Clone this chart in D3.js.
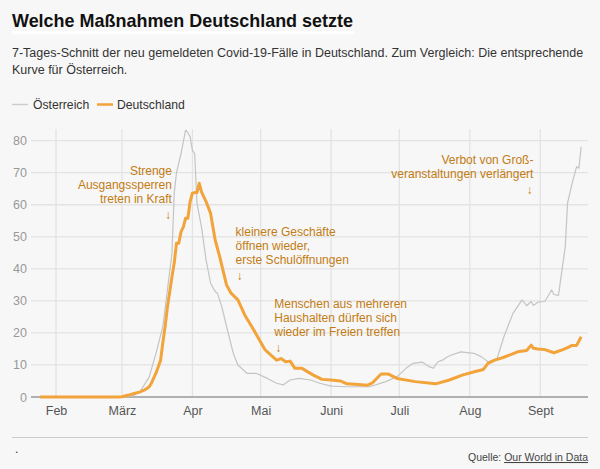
<!DOCTYPE html>
<html><head><meta charset="utf-8">
<script src="https://cdn.jsdelivr.net/npm/d3@7"></script>
<style>
html,body{margin:0;padding:0;background:#f7f7f7;}
svg{display:block;font-family:"Liberation Sans",Arial,Helvetica,sans-serif;}
</style></head>
<body>
<svg id="c" width="600" height="469"></svg>
<script>
const title = "Welche Maßnahmen Deutschland setzte";
const subtitle = ["7-Tages-Schnitt der neu gemeldeten Covid-19-Fälle in Deutschland. Zum Vergleich: Die entsprechende", "Kurve für Österreich."];
const seriesNames = ["Österreich", "Deutschland"];
const yTicks = [0,10,20,30,40,50,60,70,80];
const xTickDates = ["2020-02-01","2020-03-01","2020-04-01","2020-05-01","2020-06-01","2020-07-01","2020-08-01","2020-09-01"];
const xTickLabels = ["Feb","März","Apr","Mai","Juni","Juli","Aug","Sept"];

const deDates = ["2020-01-25","2020-02-15","2020-02-28","2020-03-01","2020-03-04","2020-03-06","2020-03-09","2020-03-11","2020-03-13","2020-03-14","2020-03-16","2020-03-18","2020-03-19","2020-03-20","2020-03-21","2020-03-23","2020-03-24","2020-03-25","2020-03-26","2020-03-27","2020-03-28","2020-03-29","2020-03-30","2020-03-31","2020-04-01","2020-04-02","2020-04-03","2020-04-04","2020-04-05","2020-04-07","2020-04-09","2020-04-11","2020-04-13","2020-04-16","2020-04-18","2020-04-21","2020-04-24","2020-04-28","2020-05-03","2020-05-08","2020-05-10","2020-05-12","2020-05-14","2020-05-16","2020-05-19","2020-05-24","2020-05-28","2020-06-01","2020-06-05","2020-06-08","2020-06-13","2020-06-17","2020-06-19","2020-06-23","2020-06-26","2020-06-30","2020-07-08","2020-07-17","2020-07-23","2020-07-29","2020-08-03","2020-08-07","2020-08-09","2020-08-12","2020-08-16","2020-08-19","2020-08-22","2020-08-26","2020-08-28","2020-08-29","2020-08-31","2020-09-03","2020-09-07","2020-09-11","2020-09-13","2020-09-15","2020-09-17","2020-09-19"];
const deValues = [0,0,0,0.1,0.6,1.0,1.6,2.2,3.2,4.4,7.5,11.5,17,22,28,37.5,41.8,48,48,51.6,53,55.8,55.8,61,63.6,63.8,63.8,66.7,64,61,57.3,49,43.8,35,32.4,30.3,25.6,20.9,14.7,11.5,12,11,11.2,9,9,6.9,5.5,5.3,5.0,4.1,3.9,3.7,4.3,7.2,7.2,5.8,4.8,4.1,5.3,6.9,7.9,8.6,10.5,11.5,12.4,13.2,14.1,14.5,16.2,15.2,15,14.8,13.8,14.8,15.4,16.1,16.1,18.8];

const atDates = ["2020-01-25","2020-02-20","2020-03-03","2020-03-06","2020-03-09","2020-03-13","2020-03-16","2020-03-19","2020-03-21","2020-03-23","2020-03-24","2020-03-25","2020-03-27","2020-03-29","2020-03-30","2020-03-31","2020-04-01","2020-04-02","2020-04-03","2020-04-05","2020-04-07","2020-04-09","2020-04-11","2020-04-12","2020-04-14","2020-04-16","2020-04-19","2020-04-21","2020-04-25","2020-04-29","2020-05-04","2020-05-08","2020-05-11","2020-05-14","2020-05-18","2020-05-23","2020-05-27","2020-06-01","2020-06-08","2020-06-14","2020-06-18","2020-06-25","2020-06-30","2020-07-04","2020-07-07","2020-07-11","2020-07-14","2020-07-16","2020-07-18","2020-07-20","2020-07-22","2020-07-24","2020-07-28","2020-08-03","2020-08-06","2020-08-09","2020-08-13","2020-08-16","2020-08-20","2020-08-24","2020-08-26","2020-08-28","2020-08-29","2020-08-31","2020-09-03","2020-09-06","2020-09-07","2020-09-09","2020-09-12","2020-09-13","2020-09-15","2020-09-17","2020-09-18","2020-09-19"];
const atValues = [0,0,0,0.4,1.7,6.3,13.7,22,33.4,44.9,63.7,70,76,83.3,82.5,81.2,77,76,60.5,53,42.8,35.5,32.9,32.4,28,22,13.6,10,7.4,7.4,5.8,4.3,3.8,5.3,5.8,5.3,4.3,3.4,3.2,3.2,3.2,4.8,6.3,9,10.5,10.9,9.5,9,11,11.5,12.5,13.1,14.1,13.6,12.6,11,12,18.8,26.1,30.3,28.5,29.8,28.6,29.6,29.8,33.4,32,31.7,46.9,60.5,66.7,71.9,71.4,78.1];

const annotations = [
  {date:"2020-03-23", value:55.6, anchor:"end", lines:["Strenge","Ausgangssperren","treten in Kraft"]},
  {date:"2020-04-20", value:36.5, anchor:"start", lines:["kleinere Geschäfte","öffnen wieder,","erste Schulöffnungen"]},
  {date:"2020-05-07", value:14.0, anchor:"start", lines:["Menschen aus mehreren","Haushalten dürfen sich","wieder im Freien treffen"]},
  {date:"2020-08-29", value:63.3, anchor:"end", lines:["Verbot von Groß-","veranstaltungen verlängert"]}
];

const parse = d3.timeParse("%Y-%m-%d");
const svg = d3.select("#c");
const plotL = 31, plotR = 588, plotT = 129, plotB = 397;

// Title
svg.append("rect").attr("x",12).attr("y",31).attr("width",342).attr("height",3.3).attr("fill","#fff");
svg.append("text").attr("x",12).attr("y",27).attr("font-size",18.6).attr("font-weight","bold").attr("fill","#111")
  .attr("textLength",341).attr("lengthAdjust","spacingAndGlyphs").text(title);

subtitle.forEach((s,i)=>svg.append("text").attr("x",12).attr("y",57+i*17).attr("font-size",12.5).attr("fill","#333").text(s));

// Legend
const colAT = "#c4c4c4", colDE = "#f2a33a";
svg.append("line").attr("x1",12).attr("x2",28).attr("y1",104.5).attr("y2",104.5).attr("stroke","#ccc").attr("stroke-width",1.5);
svg.append("text").attr("x",33).attr("y",109).attr("font-size",12.2).attr("fill","#333").text(seriesNames[0]);
svg.append("line").attr("x1",97).attr("x2",113).attr("y1",104.5).attr("y2",104.5).attr("stroke",colDE).attr("stroke-width",2.5);
svg.append("text").attr("x",117).attr("y",109).attr("font-size",12.2).attr("fill","#333").text(seriesNames[1]);

const x = d3.scaleTime().domain([parse("2020-01-21"), parse("2020-09-22")]).range([plotL,plotR]);
const y = d3.scaleLinear().domain([0,80]).range([plotB, plotB-80*3.204]);

// Grid
const g = svg.append("g");
g.selectAll("line.h").data(yTicks.filter(v=>v>0)).join("line")
  .attr("x1",plotL).attr("x2",plotR).attr("y1",d=>y(d)).attr("y2",d=>y(d))
  .attr("stroke","#e3e3e3").attr("stroke-width",1.3);
g.selectAll("line.v").data(xTickDates).join("line")
  .attr("x1",d=>x(parse(d))).attr("x2",d=>x(parse(d))).attr("y1",plotT).attr("y2",plotB)
  .attr("stroke","#e3e3e3").attr("stroke-width",1.3);

// Y axis labels
const yAxis = d3.axisLeft(y).tickValues(yTicks).tickSize(0).tickPadding(0);
const ya = svg.append("g").attr("transform",`translate(${plotL-4},0)`).call(yAxis);
ya.select(".domain").remove();
ya.selectAll("text").attr("font-size",12.5).attr("fill","#999").attr("font-family","Liberation Sans, Arial, sans-serif");

// X axis
const xAxis = d3.axisBottom(x).tickValues(xTickDates.map(parse)).tickFormat((d,i)=>xTickLabels[i]).tickSize(0).tickPadding(9);
const xa = svg.append("g").attr("transform",`translate(0,${plotB})`).call(xAxis);
xa.select(".domain").attr("stroke","#999").attr("stroke-width",1.5).attr("d",`M${plotL},0H${plotR}`);
xa.selectAll("text").attr("font-size",12.5).attr("fill","#555").attr("font-family","Liberation Sans, Arial, sans-serif");

// Lines
const line = d3.line().x(d=>x(d[0])).y(d=>y(d[1])).curve(d3.curveLinear);
const at = atDates.map((d,i)=>[parse(d), atValues[i]]);
const de = deDates.map((d,i)=>[parse(d), deValues[i]]);
svg.append("path").attr("d",line(at)).attr("fill","none").attr("stroke",colAT).attr("stroke-width",1.2).attr("stroke-linejoin","round");
svg.append("path").attr("d",line(de)).attr("fill","none").attr("stroke",colDE).attr("stroke-width",3).attr("stroke-linejoin","round");

// Annotations
const annCol = "#c27c14";
annotations.forEach(a=>{
  const ax = x(parse(a.date)), ay = y(a.value);
  const n = a.lines.length;
  a.lines.forEach((l,i)=>{
    svg.append("text").attr("x",ax).attr("y",ay-16-(n-1-i)*14).attr("font-size",12)
      .attr("text-anchor",a.anchor).attr("fill",annCol).text(l);
  });
  svg.append("text").attr("x",a.anchor==="end"?ax-4:ax+4).attr("y",ay).attr("font-size",12)
    .attr("text-anchor","middle").attr("fill",annCol).text("↓");
});

// Footer
svg.append("line").attr("x1",12).attr("x2",588).attr("y1",437.5).attr("y2",437.5).attr("stroke","#ccc").attr("stroke-width",1);
svg.append("text").attr("x",15).attr("y",453).attr("font-size",12).attr("fill","#333").text(".");
const q = svg.append("text").attr("x",588).attr("y",461).attr("font-size",10.5).attr("fill","#444").attr("text-anchor","end");
q.append("tspan").text("Quelle: ");
q.append("tspan").attr("text-decoration","underline").text("Our World in Data");
</script>
</body></html>
